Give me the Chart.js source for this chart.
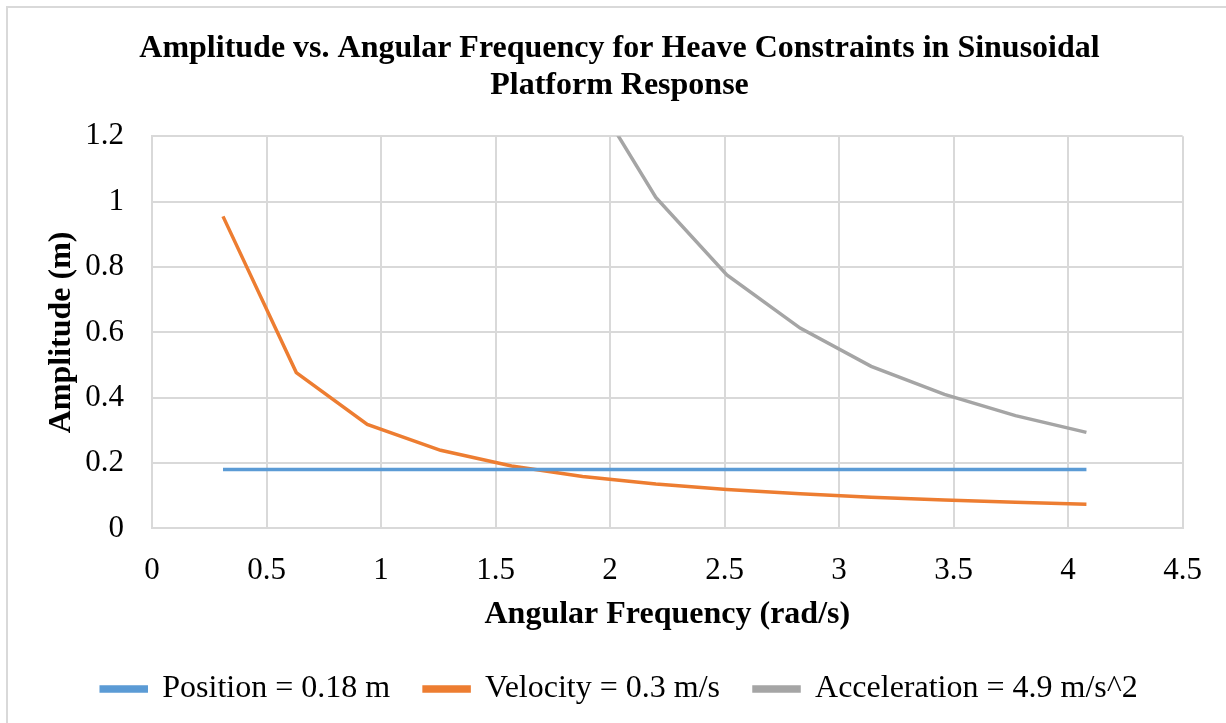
<!DOCTYPE html>
<html>
<head>
<meta charset="utf-8">
<script src="https://cdn.jsdelivr.net/npm/chart.js@4.4.1/dist/chart.umd.min.js"></script>
<style>
  html, body { margin: 0; padding: 0; background: #ffffff; }
  #wrap { position: relative; width: 1226px; height: 723px; overflow: hidden; }
  #frame { position: absolute; left: 6px; top: 6px; width: 1400px; height: 900px;
           border: 2px solid #d9d9d9; box-sizing: border-box; pointer-events: none; }
  canvas { position: absolute; left: 0; top: 0; }
</style>
</head>
<body>
<div id="wrap">
  <canvas id="chart" width="1226" height="723"></canvas>
  <div id="frame"></div>
</div>
<script>
// angular frequency (rad/s)
const omega = [0.31, 0.63, 0.94, 1.26, 1.57, 1.88, 2.2, 2.51, 2.83, 3.14, 3.46, 3.77, 4.08];
// amplitude (m) for each constraint
const position = [0.18, 0.18, 0.18, 0.18, 0.18, 0.18, 0.18, 0.18, 0.18, 0.18, 0.18, 0.18, 0.18];
const velocity = [0.955, 0.477, 0.318, 0.239, 0.191, 0.159, 0.136, 0.119, 0.106, 0.095, 0.087, 0.08, 0.074];
const acceleration = [49.6, 12.4, 5.5, 3.1, 1.99, 1.38, 1.013, 0.776, 0.613, 0.496, 0.41, 0.345, 0.294];
const seriesNames = ['Position = 0.18 m', 'Velocity = 0.3 m/s', 'Acceleration = 4.9 m/s^2'];
const seriesColors = ['#5b9bd5', '#ed7d31', '#a5a5a5'];

function toPoints(ys) {
    return omega.map(function (x, i) { return { x: x, y: ys[i] }; });
}

const serif = "'Liberation Serif', 'Times New Roman', serif";
const gridColor = '#d9d9d9';

const datasets = [position, velocity, acceleration].map(function (ys, i) {
    return {
        label: seriesNames[i],
        data: toPoints(ys),
        borderColor: seriesColors[i],
        backgroundColor: seriesColors[i],
        borderWidth: 3.5,
        pointRadius: 0,
        tension: 0
    };
});

const ctx = document.getElementById('chart').getContext('2d');
window.chart = new Chart(ctx, {
    type: 'line',
    data: { datasets: datasets },
    options: {
        responsive: false,
        animation: false,
        layout: { padding: { left: 56, right: 43, top: 31, bottom: 8 } },
        plugins: {
            title: {
                display: true,
                text: ['Amplitude vs. Angular Frequency for Heave Constraints in Sinusoidal', 'Platform Response'],
                color: '#000',
                font: { family: serif, size: 32, weight: 'bold', lineHeight: 1.13 },
                padding: { top: 0, bottom: 33 }
            },
            legend: {
                position: 'bottom',
                labels: {
                    color: '#000',
                    font: { family: serif, size: 32 },
                    boxWidth: 45,
                    boxHeight: 4,
                    padding: 34
                }
            },
            tooltip: { enabled: false }
        },
        scales: {
            x: {
                type: 'linear',
                min: 0,
                max: 4.5,
                ticks: {
                    stepSize: 0.5,
                    color: '#000',
                    padding: 24,
                    font: { family: serif, size: 31 },
                    callback: function (v) { return String(+v.toFixed(2)); }
                },
                grid: { color: gridColor, lineWidth: 2, drawTicks: false },
                border: { color: gridColor, width: 2 },
                title: {
                    display: true,
                    text: 'Angular Frequency (rad/s)',
                    color: '#000',
                    font: { family: serif, size: 32, weight: 'bold' },
                    padding: { top: 0, bottom: 5 }
                },
                afterFit: function (scale) { scale.height -= 18; }
            },
            y: {
                min: 0,
                max: 1.2,
                ticks: {
                    stepSize: 0.2,
                    color: '#000',
                    padding: 28,
                    font: { family: serif, size: 31 },
                    callback: function (v) { return String(+v.toFixed(2)); }
                },
                grid: { color: gridColor, lineWidth: 2, drawTicks: false },
                border: { color: gridColor, width: 2 },
                title: {
                    display: true,
                    text: 'Amplitude (m)',
                    color: '#000',
                    font: { family: serif, size: 32, weight: 'bold' },
                    padding: { top: -13, bottom: 0 }
                },
                afterFit: function (scale) { scale.width = 96; }
            }
        }
    }
});
</script>
</body>
</html>
